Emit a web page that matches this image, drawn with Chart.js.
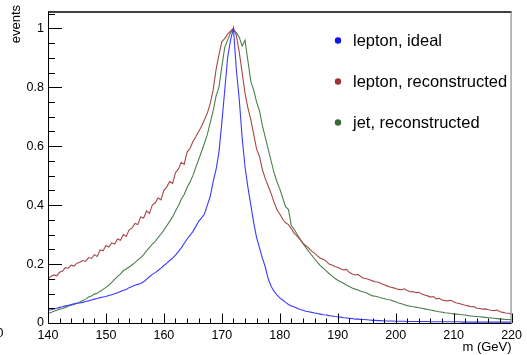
<!DOCTYPE html>
<html>
<head>
<meta charset="utf-8">
<script src="https://cdn.jsdelivr.net/npm/chart.js@4.4.0/dist/chart.umd.min.js"></script>
<style>
html, body { margin: 0; padding: 0; background: #fff; }
#wrap { width: 527px; height: 355px; }
</style>
</head>
<body>
<div id="wrap"><canvas id="massChart" width="527" height="355"></canvas></div>
<script>
// bin centres go from 140 to 220 GeV, 0.5 GeV apart
const massStart = 140;
const massStep = 0.5;

const leptonIdeal = [
    0.043, 0.045, 0.048, 0.050, 0.053, 0.055, 0.058, 0.060, 0.063, 0.065,
    0.067, 0.068, 0.070, 0.073, 0.075, 0.078, 0.081, 0.083, 0.086, 0.088,
    0.090, 0.093, 0.096, 0.099, 0.103, 0.107, 0.111, 0.114, 0.120, 0.124,
    0.128, 0.131, 0.134, 0.140, 0.148, 0.157, 0.165, 0.171, 0.178, 0.186,
    0.195, 0.203, 0.212, 0.220, 0.230, 0.242, 0.255, 0.270, 0.285, 0.297,
    0.310, 0.327, 0.345, 0.357, 0.370, 0.400, 0.430, 0.480, 0.520, 0.580,
    0.680, 0.790, 0.900, 0.960, 1.000, 0.860, 0.760, 0.630, 0.530, 0.460,
    0.400, 0.340, 0.290, 0.255, 0.220, 0.190, 0.150, 0.125, 0.108, 0.095,
    0.085, 0.078, 0.070, 0.063, 0.058, 0.054, 0.050, 0.046, 0.043, 0.040,
    0.038, 0.036, 0.034, 0.032, 0.030, 0.028, 0.027, 0.025, 0.024, 0.022,
    0.021, 0.020, 0.018, 0.017, 0.016, 0.015, 0.013, 0.013, 0.012, 0.012,
    0.011, 0.010, 0.009, 0.009, 0.008, 0.008, 0.007, 0.007, 0.007, 0.007,
    0.006, 0.006, 0.006, 0.006, 0.005, 0.005, 0.005, 0.005, 0.005, 0.005,
    0.005, 0.005, 0.004, 0.004, 0.004, 0.004, 0.004, 0.004, 0.004, 0.004,
    0.004, 0.004, 0.004, 0.003, 0.003, 0.003, 0.003, 0.003, 0.003, 0.003,
    0.003, 0.003, 0.003, 0.003, 0.003, 0.003, 0.003, 0.003, 0.003, 0.003,
    0.003
];

const leptonReco = [
    0.150, 0.158, 0.163, 0.160, 0.172, 0.176, 0.188, 0.186, 0.196, 0.193,
    0.203, 0.206, 0.212, 0.209, 0.222, 0.219, 0.232, 0.226, 0.248, 0.245,
    0.263, 0.258, 0.272, 0.268, 0.285, 0.281, 0.300, 0.294, 0.316, 0.322,
    0.338, 0.334, 0.360, 0.356, 0.380, 0.372, 0.400, 0.408, 0.424, 0.418,
    0.450, 0.462, 0.480, 0.474, 0.510, 0.522, 0.545, 0.538, 0.580, 0.592,
    0.615, 0.632, 0.650, 0.668, 0.690, 0.712, 0.745, 0.790, 0.860, 0.910,
    0.955, 0.965, 0.980, 0.990, 1.000, 0.975, 0.920, 0.850, 0.780, 0.730,
    0.690, 0.640, 0.590, 0.565, 0.520, 0.490, 0.465, 0.440, 0.410, 0.385,
    0.370, 0.352, 0.340, 0.334, 0.320, 0.304, 0.295, 0.283, 0.270, 0.262,
    0.254, 0.244, 0.237, 0.228, 0.220, 0.216, 0.210, 0.200, 0.197, 0.192,
    0.188, 0.184, 0.180, 0.182, 0.172, 0.166, 0.163, 0.165, 0.157, 0.152,
    0.150, 0.147, 0.143, 0.140, 0.138, 0.134, 0.130, 0.126, 0.122, 0.120,
    0.117, 0.114, 0.113, 0.116, 0.110, 0.106, 0.107, 0.103, 0.104, 0.098,
    0.095, 0.092, 0.088, 0.090, 0.082, 0.084, 0.078, 0.076, 0.075, 0.077,
    0.072, 0.068, 0.066, 0.063, 0.060, 0.058, 0.055, 0.056, 0.050, 0.049,
    0.047, 0.048, 0.045, 0.043, 0.042, 0.044, 0.038, 0.036, 0.034, 0.033,
    0.030
];

const jetReco = [
    0.032, 0.036, 0.040, 0.043, 0.047, 0.049, 0.053, 0.057, 0.060, 0.063,
    0.067, 0.071, 0.076, 0.081, 0.088, 0.092, 0.098, 0.101, 0.108, 0.114,
    0.121, 0.128, 0.138, 0.148, 0.158, 0.166, 0.178, 0.183, 0.190, 0.197,
    0.205, 0.214, 0.222, 0.232, 0.245, 0.256, 0.268, 0.277, 0.290, 0.302,
    0.315, 0.330, 0.345, 0.360, 0.380, 0.398, 0.420, 0.436, 0.460, 0.478,
    0.500, 0.528, 0.555, 0.582, 0.610, 0.640, 0.680, 0.720, 0.770, 0.800,
    0.870, 0.935, 0.960, 0.985, 0.995, 0.985, 0.970, 0.940, 0.960, 0.890,
    0.820, 0.790, 0.750, 0.720, 0.670, 0.630, 0.590, 0.550, 0.510, 0.480,
    0.455, 0.425, 0.395, 0.385, 0.330, 0.318, 0.300, 0.285, 0.270, 0.256,
    0.243, 0.230, 0.218, 0.206, 0.195, 0.186, 0.177, 0.168, 0.160, 0.152,
    0.145, 0.140, 0.135, 0.129, 0.124, 0.119, 0.115, 0.112, 0.108, 0.105,
    0.102, 0.097, 0.092, 0.091, 0.088, 0.085, 0.083, 0.080, 0.079, 0.075,
    0.072, 0.068, 0.065, 0.062, 0.059, 0.057, 0.055, 0.054, 0.052, 0.050,
    0.048, 0.046, 0.044, 0.042, 0.040, 0.038, 0.037, 0.035, 0.034, 0.032,
    0.031, 0.030, 0.029, 0.028, 0.027, 0.025, 0.024, 0.023, 0.022, 0.021,
    0.020, 0.019, 0.018, 0.017, 0.016, 0.015, 0.014, 0.013, 0.012, 0.012,
    0.011
];

const seriesNames = ['lepton, ideal', 'lepton, reconstructed', 'jet, reconstructed'];
const xTickValues = [140, 150, 160, 170, 180, 190, 200, 210, 220];
const yTickValues = [0, 0.2, 0.4, 0.6, 0.8, 1];
const xAxisTitle = 'm (GeV)';
const yAxisTitle = 'events';

const FONT = '"Liberation Sans", Arial, Helvetica, sans-serif';

function toPoints(values) {
    return values.map((v, i) => ({ x: massStart + i * massStep, y: v }));
}

// ROOT-like frame: ticks inside the frame, titles and legend inside the pad
const rootFrame = {
    id: 'rootFrame',
    afterDraw(chart) {
        const ctx = chart.ctx;
        const area = chart.chartArea;
        const xs = chart.scales.x;
        const ys = chart.scales.y;
        ctx.save();

        // frame
        ctx.strokeStyle = '#000';
        ctx.lineWidth = 1;
        ctx.beginPath();
        ctx.moveTo(area.left + 0.5, area.top);
        ctx.lineTo(area.left + 0.5, area.bottom + 0.5);
        ctx.lineTo(area.right, area.bottom + 0.5);
        ctx.stroke();
        ctx.lineWidth = 1.5;
        ctx.beginPath();
        ctx.moveTo(area.left, area.top + 0.5);
        ctx.lineTo(area.right, area.top + 0.5);
        ctx.stroke();
        ctx.strokeStyle = '#777';
        ctx.lineWidth = 1;
        ctx.beginPath();
        ctx.moveTo(area.right - 0.5, area.top);
        ctx.lineTo(area.right - 0.5, area.bottom);
        ctx.stroke();

        // y ticks (major every 0.2, minor every 0.05)
        ctx.strokeStyle = '#000';
        ctx.beginPath();
        for (let k = 0; k <= 21; k++) {
            const v = k * 0.05;
            const py = Math.round(ys.getPixelForValue(v)) + 0.5;
            const len = (k % 4 === 0) ? 14 : 7;
            ctx.moveTo(area.left, py);
            ctx.lineTo(area.left + len, py);
        }
        // x ticks (major every 10, minor every 2)
        for (let k = 0; k <= 40; k++) {
            const v = 140 + k * 2;
            const px = Math.round(xs.getPixelForValue(v)) + 0.5;
            const len = (k % 5 === 0) ? 9.5 : 4.5;
            ctx.moveTo(px, area.bottom);
            ctx.lineTo(px, area.bottom - len);
        }
        ctx.stroke();

        // axis titles
        ctx.fillStyle = '#000';
        ctx.font = '13px ' + FONT;
        ctx.textAlign = 'right';
        ctx.textBaseline = 'middle';
        ctx.fillText(xAxisTitle, area.right, 347);
        ctx.fillText('0', 3.5, 333);
        ctx.save();
        ctx.translate(16, 5);
        ctx.rotate(-Math.PI / 2);
        ctx.fillText(yAxisTitle, 0, 0);
        ctx.restore();

        // legend
        ctx.font = '16.5px ' + FONT;
        ctx.textAlign = 'left';
        chart.data.datasets.forEach((ds, i) => {
            const cy = area.top + 29 + i * 41;
            ctx.fillStyle = ds.dotColor;
            ctx.beginPath();
            ctx.arc(area.left + 290, cy, 3.2, 0, Math.PI * 2);
            ctx.fill();
            ctx.fillStyle = '#000';
            ctx.fillText(ds.label, area.left + 305, cy + 1);
        });

        ctx.restore();
    }
};

const ctx = document.getElementById('massChart').getContext('2d');

new Chart(ctx, {
    type: 'line',
    data: {
        datasets: [
            { label: seriesNames[0], data: toPoints(leptonIdeal), borderColor: '#3a3aff', dotColor: '#1212ee' },
            { label: seriesNames[1], data: toPoints(leptonReco), borderColor: '#a84646', dotColor: '#a03535' },
            { label: seriesNames[2], data: toPoints(jetReco), borderColor: '#4c7f4c', dotColor: '#356a35' }
        ]
    },
    options: {
        responsive: false,
        animation: false,
        devicePixelRatio: 1,
        layout: { padding: { top: 6, right: 13, left: 0, bottom: 0 } },
        elements: {
            line: { borderWidth: 1.1, tension: 0, fill: false },
            point: { radius: 0, hoverRadius: 0 }
        },
        plugins: {
            legend: { display: false },
            tooltip: { enabled: false }
        },
        scales: {
            x: {
                type: 'linear',
                min: 140,
                max: 220,
                grid: { display: false, drawTicks: false },
                border: { display: false },
                afterBuildTicks: (scale) => { scale.ticks = xTickValues.map(v => ({ value: v })); },
                afterFit: (scale) => { scale.height = 32; },
                ticks: {
                    padding: 5,
                    maxRotation: 0,
                    autoSkip: false,
                    color: '#000',
                    font: { family: FONT, size: 12.5 },
                    callback: (v) => String(v)
                }
            },
            y: {
                min: 0,
                max: 1.057,
                grid: { display: false, drawTicks: false },
                border: { display: false },
                afterBuildTicks: (scale) => { scale.ticks = yTickValues.map(v => ({ value: v })); },
                afterFit: (scale) => { scale.width = 48; },
                ticks: {
                    padding: 4,
                    autoSkip: false,
                    color: '#000',
                    font: { family: FONT, size: 12.5 },
                    callback: (v) => String(v)
                }
            }
        }
    },
    plugins: [rootFrame]
});
</script>
</body>
</html>
